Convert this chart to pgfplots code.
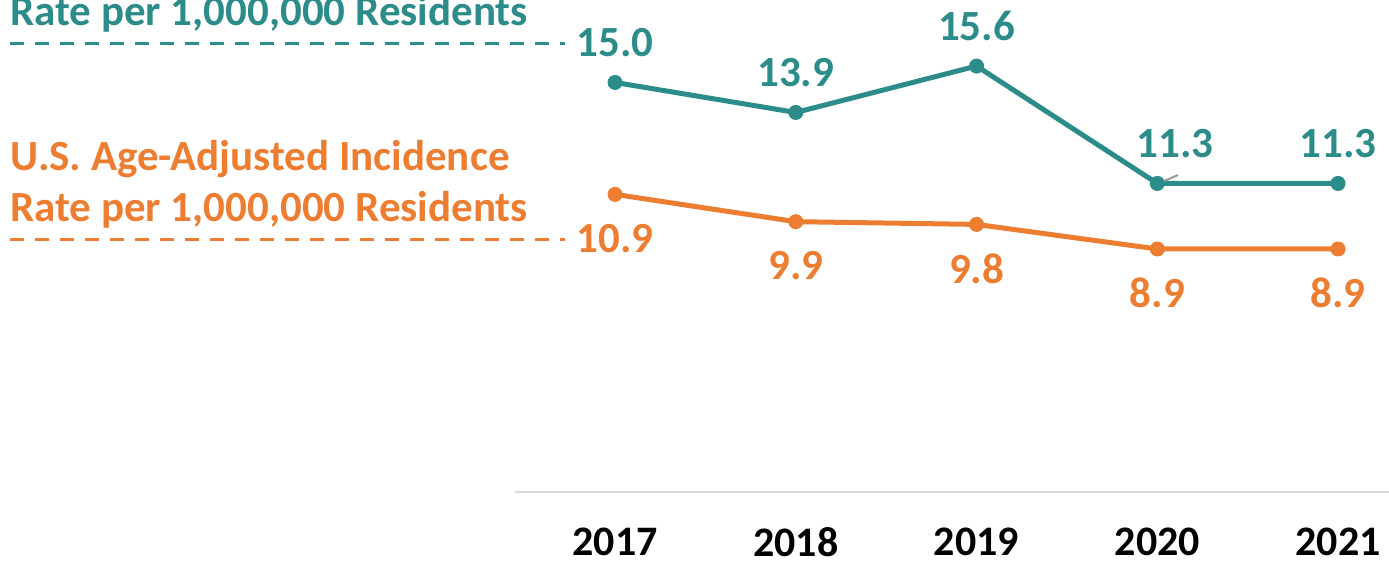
\documentclass[border=0pt]{standalone}
\usepackage{fontspec}
\setmainfont{Carlito}
\usepackage{pgfplots}
\usepackage{pgfplotstable}
\pgfplotsset{compat=1.18}
\definecolor{rteal}{RGB}{44,140,137}
\definecolor{rorange}{RGB}{237,125,49}

% state rate (teal), dx = label shift
\pgfplotstableread{
x y lbl dx
0 15.0 15.0 0
1 13.9 13.9 0
2 15.6 15.6 0
3 11.3 11.3 9
4 11.3 11.3 0
}\statedata
% U.S. rate (orange)
\pgfplotstableread{
x y lbl
0 10.9 10.9
1 9.9 9.9
2 9.8 9.8
3 8.9 8.9
4 8.9 8.9
}\usdata

\begin{document}
\begin{tikzpicture}[font=\fontsize{21.5}{25}\selectfont\bfseries]
\begin{axis}[
  scale only axis, width=437pt, height=246pt,
  xmin=-0.553, xmax=4.282, ymin=0, ymax=18.02,
  axis y line=none, axis x line=bottom,
  axis line style={draw=black!15, line width=1pt, -},
  xtick={0,...,4}, xticklabels={2017,2018,2019,2020,2021},
  major tick length=0pt,
  xticklabel style={anchor=center, inner sep=0pt, yshift=-25pt, text=black,
    font=\fontsize{21}{25}\selectfont\bfseries},
  clip=false,
]
\addplot[rteal, line width=2.5pt, mark=*, mark size=3.5pt, mark options={line width=0.5pt},
  nodes near coords, point meta=explicit symbolic,
  visualization depends on={\thisrow{dx}\as\dx},
  every node near coord/.append style={anchor=center, yshift=20pt, xshift=\dx pt, text=rteal}]
  table[x=x, y=y, meta=lbl]{\statedata};
\addplot[rorange, line width=2.5pt, mark=*, mark size=3.5pt, mark options={line width=0.5pt},
  nodes near coords, point meta=explicit symbolic,
  every node near coord/.append style={anchor=center, yshift=-22pt, text=rorange}]
  table[x=x, y=y, meta=lbl]{\usdata};

\draw[black!40, line width=1pt] (axis cs:3.006,11.3) -- (axis cs:3.115,11.61);

\node[anchor=base west, text=rteal, inner sep=0pt] at (axis cs:-3.347,17.07) {Rate per 1,000,000 Residents};
\draw[rteal, line width=1.5pt, dash pattern=on 7pt off 5.5pt] (axis cs:-3.347,16.41) -- (axis cs:-0.277,16.41);

\node[anchor=base west, text=rorange, inner sep=0pt] at (axis cs:-3.347,11.76) {U.S. Age-Adjusted Incidence};
\node[anchor=base west, text=rorange, inner sep=0pt] at (axis cs:-3.347,9.89) {Rate per 1,000,000 Residents};
\draw[rorange, line width=1.5pt, dash pattern=on 7pt off 5.5pt] (axis cs:-3.347,9.23) -- (axis cs:-0.277,9.23);

\coordinate (bl) at (axis cs:-3.403,-2.674);
\coordinate (tr) at (axis cs:4.282,18.02);
\end{axis}
\pgfresetboundingbox
\path[use as bounding box] (bl) rectangle (tr);
\end{tikzpicture}
\end{document}
